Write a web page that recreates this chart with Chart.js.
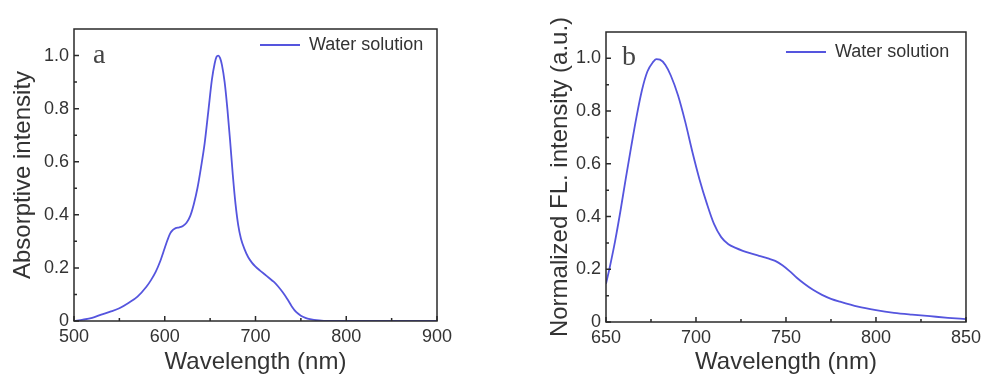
<!DOCTYPE html>
<html>
<head>
<meta charset="utf-8">
<script src="https://cdn.jsdelivr.net/npm/chart.js@4"></script>
<style>
  html, body { margin: 0; padding: 0; background: #fff; }
  #wrapA { position: absolute; left: 0; top: 0; width: 460px; height: 381px; }
  #wrapB { position: absolute; left: 520px; top: 0; width: 466px; height: 381px; }
</style>
</head>
<body>
<div id="wrapA"><canvas id="chartA"></canvas></div>
<div id="wrapB"><canvas id="chartB"></canvas></div>
<script>
// (a) absorption spectrum
const absWavelength = [500, 510, 520, 530, 540, 550, 560, 570, 580, 585, 590, 595, 600, 603, 606, 609, 612, 616, 620, 624, 628, 632, 636, 640, 644, 648, 652, 655, 657, 659, 661, 663, 666, 669, 672, 675, 678, 681, 684, 688, 692, 696, 700, 705, 710, 715, 720, 725, 730, 735, 740, 745, 750, 755, 760, 770, 780, 800, 850, 900];
const absIntensity = [0.0, 0.005, 0.012, 0.024, 0.035, 0.048, 0.068, 0.092, 0.13, 0.155, 0.185, 0.225, 0.275, 0.305, 0.33, 0.343, 0.35, 0.353, 0.358, 0.37, 0.395, 0.44, 0.5, 0.58, 0.67, 0.79, 0.91, 0.97, 0.995, 1.0, 0.99, 0.965, 0.9, 0.8, 0.68, 0.55, 0.44, 0.36, 0.31, 0.27, 0.24, 0.22, 0.205, 0.19, 0.176, 0.162, 0.148, 0.13, 0.108, 0.083, 0.055, 0.033, 0.02, 0.012, 0.007, 0.002, 0.0, 0.0, 0.0, 0.0];

// (b) fluorescence spectrum
const flWavelength = [650, 652, 655, 658, 661, 664, 667, 670, 673, 676, 678, 680, 683, 686, 690, 694, 698, 702, 706, 710, 714, 718, 722, 726, 730, 735, 740, 744, 748, 752, 756, 760, 765, 770, 775, 780, 790, 800, 810, 820, 830, 840, 850];
const flIntensity = [0.145, 0.205, 0.305, 0.42, 0.545, 0.665, 0.78, 0.88, 0.95, 0.985, 0.997, 0.995, 0.975, 0.935, 0.86, 0.76, 0.645, 0.54, 0.45, 0.372, 0.322, 0.295, 0.281, 0.27, 0.261, 0.251, 0.241, 0.232, 0.215, 0.193, 0.168, 0.146, 0.122, 0.103, 0.088, 0.077, 0.058, 0.045, 0.035, 0.028, 0.022, 0.016, 0.011];

const yTicks = [0, 0.2, 0.4, 0.6, 0.8, 1.0];
const xTicksA = [500, 600, 700, 800, 900];
const xTicksB = [650, 700, 750, 800, 850];
const seriesLabel = 'Water solution';

Chart.defaults.font.family = "'Liberation Sans', Arial, sans-serif";
Chart.defaults.color = '#333';

const lineColor = 'rgb(85, 85, 222)';

// box round the plot, inward major/minor ticks, panel letter
const framePlugin = {
  id: 'frame',
  afterDraw(chart, args, opts) {
    const { ctx, chartArea: a, scales: { x, y } } = chart;
    ctx.save();
    ctx.strokeStyle = '#2a2a2a';
    ctx.lineWidth = 1.5;
    ctx.strokeRect(a.left, a.top, a.right - a.left, a.bottom - a.top);
    ctx.beginPath();
    x.ticks.forEach((t, i) => {
      const px = x.getPixelForValue(t.value);
      ctx.moveTo(px, a.bottom); ctx.lineTo(px, a.bottom - 5);
      if (i < x.ticks.length - 1) {
        const mx = x.getPixelForValue((t.value + x.ticks[i + 1].value) / 2);
        ctx.moveTo(mx, a.bottom); ctx.lineTo(mx, a.bottom - 3);
      }
    });
    y.ticks.forEach((t, i) => {
      const py = y.getPixelForValue(t.value);
      ctx.moveTo(a.left, py); ctx.lineTo(a.left + 5, py);
      if (i < y.ticks.length - 1) {
        const my = y.getPixelForValue((t.value + y.ticks[i + 1].value) / 2);
        ctx.moveTo(a.left, my); ctx.lineTo(a.left + 3, my);
      }
    });
    ctx.stroke();
    ctx.font = "28px 'Liberation Serif', 'Times New Roman', serif";
    ctx.fillStyle = '#444';
    ctx.textBaseline = 'alphabetic';
    ctx.fillText(opts.letter, a.left + opts.dx, a.top + opts.dy);
    ctx.restore();
  }
};

// put the legend inside the plot, top right
const legendMove = {
  id: 'legendMove',
  afterLayout(chart, args, opts) {
    const lg = chart.legend;
    if (!lg) return;
    const w = lg.width, h = lg.height;
    lg.left = chart.chartArea.right - opts.fromRight;
    lg.right = lg.left + w;
    lg.top = chart.chartArea.top + opts.fromTop;
    lg.bottom = lg.top + h;
  }
};

function makeChart(id, xs, ys, p) {
  const points = xs.map((w, i) => ({ x: w, y: ys[i] }));
  return new Chart(document.getElementById(id), {
    type: 'line',
    data: {
      datasets: [{
        label: seriesLabel,
        data: points,
        borderColor: lineColor,
        backgroundColor: lineColor,
        borderWidth: 1.8,
        pointRadius: 0,
        cubicInterpolationMode: 'monotone',
        fill: false
      }]
    },
    options: {
      responsive: true,
      maintainAspectRatio: false,
      animation: false,
      layout: { padding: { top: p.padTop, right: p.padRight, left: 0, bottom: 0 } },
      scales: {
        x: {
          type: 'linear',
          min: p.xMin,
          max: p.xMax,
          grid: { display: false, drawTicks: false },
          border: { display: false },
          afterBuildTicks: s => { s.ticks = p.xTicks.map(v => ({ value: v })); },
          afterFit: s => { s.height = p.xAxisH; },
          ticks: { padding: 5, color: '#333', font: { size: 18 }, maxRotation: 0, autoSkip: false },
          title: { display: true, text: 'Wavelength (nm)', color: '#333', font: { size: 24 }, padding: { top: 0, bottom: 4 } }
        },
        y: {
          min: 0,
          max: 1.1,
          grid: { display: false, drawTicks: false },
          border: { display: false },
          afterBuildTicks: s => { s.ticks = yTicks.map(v => ({ value: v })); },
          afterFit: s => { s.width = p.yAxisW; },
          ticks: {
            padding: 5, color: '#333', font: { size: 18 },
            callback: v => (v === 0 ? '0' : v.toFixed(1))
          },
          title: { display: true, text: p.yTitle, color: '#333', font: { size: 24 }, padding: { top: p.yTitlePad, bottom: 0 } }
        }
      },
      plugins: {
        legend: {
          position: 'chartArea',
          align: 'start',
          labels: {
            usePointStyle: true,
            pointStyle: 'line',
            pointStyleWidth: 40,
            color: '#333',
            font: { size: 18 }
          }
        },
        tooltip: { enabled: false },
        legendMove: { fromRight: p.legRight, fromTop: p.legTop },
        frame: { letter: p.letter, dx: p.letterDx, dy: p.letterDy }
      }
    },
    plugins: [legendMove, framePlugin]
  });
}

makeChart('chartA', absWavelength, absIntensity, {
  padTop: 29, padRight: 23, xAxisH: 60, yAxisW: 74, yTitlePad: 9,
  xMin: 500, xMax: 900, xTicks: xTicksA,
  yTitle: 'Absorptive intensity',
  legRight: 187, legTop: -3,
  letter: 'a', letterDx: 19, letterDy: 34
});

makeChart('chartB', flWavelength, flIntensity, {
  padTop: 32, padRight: 19, xAxisH: 59, yAxisW: 86, yTitlePad: 26,
  xMin: 650, xMax: 850, xTicks: xTicksB,
  yTitle: 'Normalized FL. intensity (a.u.)',
  legRight: 190, legTop: 1,
  letter: 'b', letterDx: 16, letterDy: 33
});
</script>
</body>
</html>
